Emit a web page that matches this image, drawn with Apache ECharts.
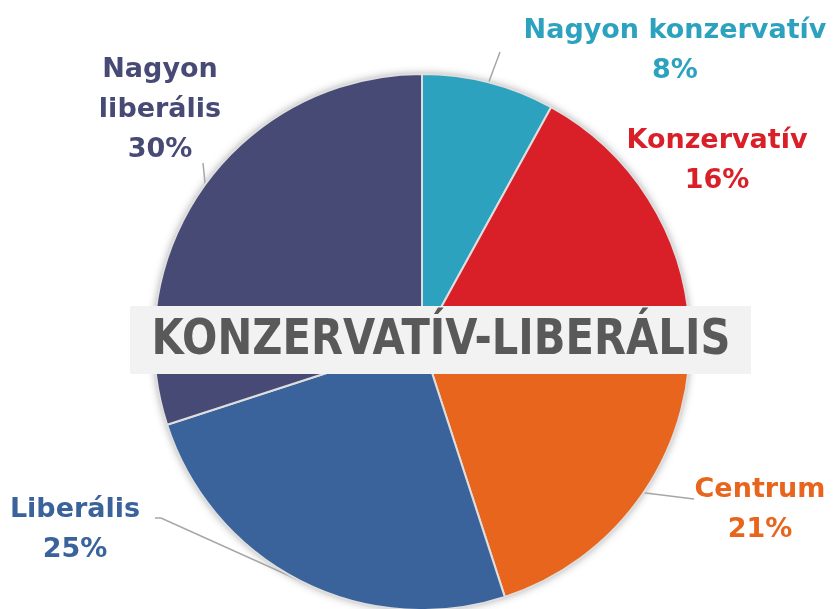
<!DOCTYPE html>
<html>
<head>
<meta charset="utf-8">
<script src="https://cdn.jsdelivr.net/npm/echarts@6/dist/echarts.min.js"></script>
<style>
html,body{margin:0;padding:0;background:#fff;}
#chart{width:840px;height:609px;}
</style>
</head>
<body>
<div id="chart"></div>
<script>
// Data
var categories = ['Nagyon konzervatív', 'Konzervatív', 'Centrum', 'Liberális', 'Nagyon liberális'];
var labelNames = ['Nagyon konzervatív', 'Konzervatív', 'Centrum', 'Liberális', 'Nagyon\nliberális'];
var values = [8, 16, 21, 25, 30];
var sliceColors = ['#2CA2BF', '#D91F28', '#E8651E', '#3A639B', '#474A75'];
var titleText = 'KONZERVATÍV-LIBERÁLIS';

// Label placement (centre of each label block) and leader-line ends
var labelPos = [[675, 51], [717, 161], [760, 510], [75, 530], [160, 110]];
var lineEnds = [[[500, 52]], null, [[694, 499]], [[161, 518], [155, 518]], [[203, 163]]];

var chart = echarts.init(document.getElementById('chart'), null, {renderer: 'canvas'});

var total = values.reduce(function (a, b) { return a + b; }, 0);

var data = categories.map(function (c, i) {
  return {
    name: c,
    value: values[i],
    itemStyle: {color: sliceColors[i]},
    label: {color: sliceColors[i]},
    labelLine: {show: i !== 1}
  };
});

var option = {
  animation: false,
  backgroundColor: '#ffffff',
  series: [
    {
      // soft outer shadow of the whole pie
      type: 'pie',
      silent: true,
      z: 1,
      center: [422, 342],
      radius: 267,
      data: [{value: total, name: ''}],
      itemStyle: {
        color: '#ffffff',
        shadowBlur: 10,
        shadowColor: 'rgba(0,0,0,0.45)'
      },
      label: {show: false},
      labelLine: {show: false},
      emphasis: {disabled: true},
      tooltip: {show: false}
    },
    {
      type: 'pie',
      z: 2,
      center: [422, 342],
      radius: 268,
      startAngle: 90,
      clockwise: true,
      data: data,
      itemStyle: {
        borderColor: '#dedede',
        borderWidth: 2
      },
      label: {
        show: true,
        position: 'outside',
        overflow: 'none',
        fontFamily: 'DejaVu Sans',
        fontWeight: 'bold',
        fontSize: 27,
        lineHeight: 40,
        align: 'center',
        formatter: function (p) {
          return labelNames[p.dataIndex] + '\n' + p.percent + '%';
        }
      },
      labelLine: {
        show: true,
        length: 10,
        length2: 6,
        lineStyle: {color: '#a6a6a6', width: 1.5}
      },
      labelLayout: function (p) {
        var pos = labelPos[p.dataIndex];
        var res = {x: pos[0], y: pos[1], align: 'center', verticalAlign: 'middle'};
        var ends = lineEnds[p.dataIndex];
        if (ends && p.labelLinePoints) {
          res.labelLinePoints = [p.labelLinePoints[0]].concat(ends);
        }
        return res;
      },
      emphasis: {disabled: true}
    }
  ],
  graphic: [
    {
      type: 'rect',
      z: 100,
      shape: {x: 130, y: 306, width: 621, height: 68},
      style: {fill: '#F2F2F2'}
    },
    {
      type: 'text',
      z: 101,
      x: 441,
      y: 341,
      scaleX: 0.85,
      style: {
        text: titleText,
        fill: '#595959',
        font: 'bold 49px "DejaVu Sans"',
        textAlign: 'center',
        textVerticalAlign: 'middle',
        align: 'center',
        verticalAlign: 'middle'
      }
    }
  ]
};
chart.setOption(option);
</script>
</body>
</html>
